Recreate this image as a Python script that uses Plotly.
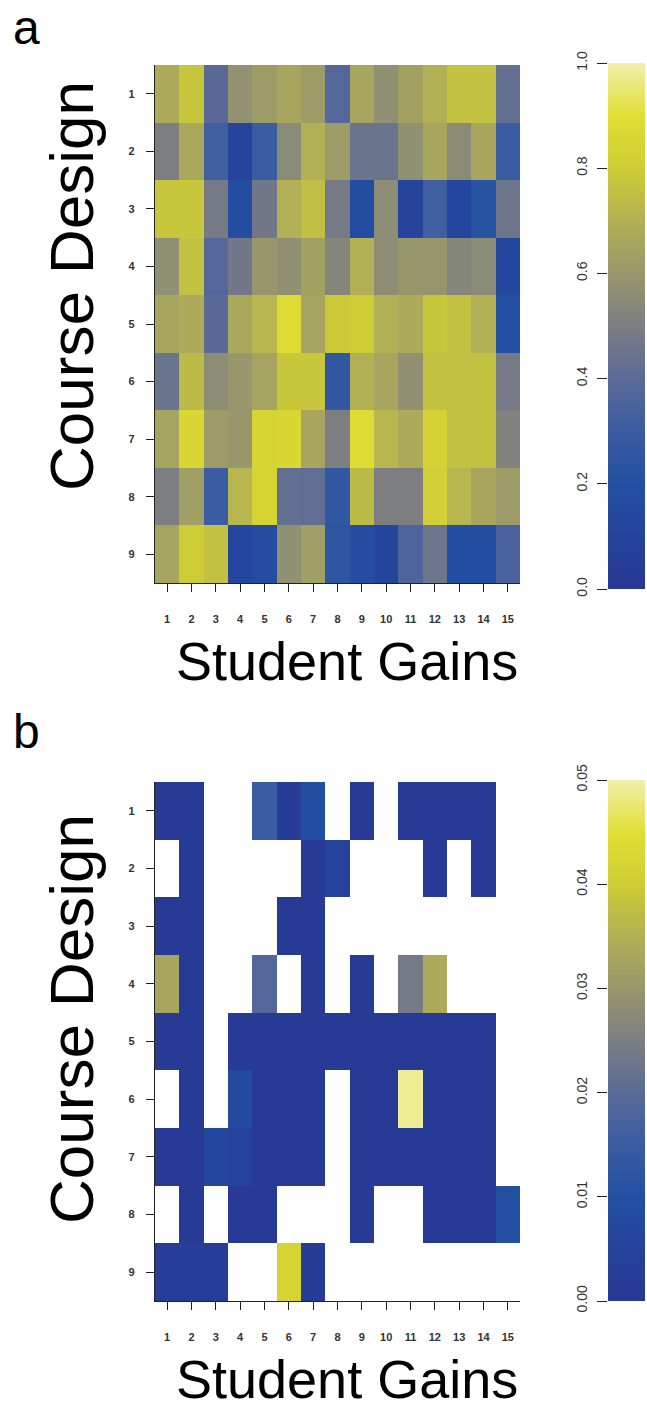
import numpy as np
import plotly.graph_objects as go

# ---------------- data ----------------
student_gains = list(range(1, 16))
course_design = list(range(1, 10))

# Panel a: values (0..1), rows = course design 1..9, cols = student gains 1..15
values_a = [
    [0.68, 0.78, 0.40, 0.58, 0.62, 0.66, 0.62, 0.38, 0.66, 0.57, 0.64, 0.70, 0.76, 0.76, 0.43],
    [0.50, 0.67, 0.32, 0.12, 0.30, 0.55, 0.70, 0.62, 0.45, 0.45, 0.57, 0.66, 0.55, 0.66, 0.30],
    [0.78, 0.78, 0.48, 0.18, 0.47, 0.70, 0.75, 0.48, 0.18, 0.56, 0.12, 0.32, 0.13, 0.22, 0.46],
    [0.57, 0.76, 0.38, 0.47, 0.60, 0.57, 0.64, 0.53, 0.70, 0.56, 0.60, 0.59, 0.53, 0.55, 0.14],
    [0.66, 0.68, 0.40, 0.67, 0.72, 0.88, 0.65, 0.79, 0.80, 0.70, 0.68, 0.78, 0.76, 0.70, 0.20],
    [0.45, 0.74, 0.56, 0.60, 0.65, 0.78, 0.78, 0.27, 0.70, 0.66, 0.57, 0.76, 0.76, 0.76, 0.48],
    [0.65, 0.86, 0.62, 0.60, 0.84, 0.86, 0.66, 0.50, 0.88, 0.72, 0.68, 0.83, 0.76, 0.76, 0.52],
    [0.50, 0.63, 0.30, 0.72, 0.84, 0.43, 0.42, 0.26, 0.74, 0.50, 0.50, 0.82, 0.72, 0.66, 0.62],
    [0.65, 0.80, 0.76, 0.13, 0.17, 0.57, 0.63, 0.24, 0.17, 0.12, 0.36, 0.46, 0.18, 0.18, 0.35],
]

# Panel b: values (0..0.05), None = blank cell
N = None
values_b = [
    [0.001, 0.001, N, N, 0.015, 0.002, 0.009, N, 0.001, N, 0.001, 0.001, 0.001, 0.001, N],
    [N, 0.001, N, N, N, N, 0.001, 0.005, N, N, N, 0.001, N, 0.001, N],
    [0.001, 0.001, N, N, N, 0.001, 0.001, N, N, N, N, N, N, N, N],
    [0.033, 0.001, N, N, 0.019, N, 0.001, N, 0.001, N, 0.024, 0.034, N, N, N],
    [0.001, 0.001, N, 0.001, 0.001, 0.001, 0.001, 0.001, 0.001, 0.001, 0.001, 0.001, 0.001, 0.001, N],
    [N, 0.001, N, 0.008, 0.001, 0.001, 0.001, N, 0.001, 0.001, 0.049, 0.001, 0.001, 0.001, N],
    [0.001, 0.001, 0.007, 0.005, 0.001, 0.001, 0.001, N, 0.001, 0.001, 0.001, 0.001, 0.001, 0.001, N],
    [N, 0.001, N, 0.001, 0.001, N, N, N, 0.001, N, N, 0.001, 0.001, 0.001, 0.010],
    [0.003, 0.003, 0.003, N, N, 0.042, 0.002, N, N, N, N, N, N, N, N],
]

cb_a_ticks = [0.0, 0.2, 0.4, 0.6, 0.8, 1.0]
cb_a_text = ["0.0", "0.2", "0.4", "0.6", "0.8", "1.0"]
cb_b_ticks = [0.0, 0.01, 0.02, 0.03, 0.04, 0.05]
cb_b_text = ["0.00", "0.01", "0.02", "0.03", "0.04", "0.05"]

# ---------------- style ----------------
W, H = 647, 1417
colorscale = [
    [0.00, "rgb(40,56,148)"],
    [0.10, "rgb(37,66,156)"],
    [0.20, "rgb(35,80,162)"],
    [0.30, "rgb(58,92,162)"],
    [0.40, "rgb(90,106,152)"],
    [0.50, "rgb(124,126,130)"],
    [0.60, "rgb(152,151,108)"],
    [0.70, "rgb(178,176,84)"],
    [0.80, "rgb(206,204,52)"],
    [0.90, "rgb(225,223,52)"],
    [1.00, "rgb(240,240,172)"],
]
DARK = "#222222"
FONT = "Liberation Sans, Arial, sans-serif"


def px(x):
    return x / W


def py(y):
    return 1 - y / H


fig = go.Figure()

fig.add_trace(go.Heatmap(z=values_a, x=student_gains, y=course_design, colorscale=colorscale,
                         zmin=0, zmax=1, showscale=False, xaxis="x", yaxis="y"))
fig.add_trace(go.Heatmap(z=values_b, x=student_gains, y=course_design, colorscale=colorscale,
                         zmin=0, zmax=0.05, showscale=False, xaxis="x3", yaxis="y3"))

# colour keys (gradient strips drawn with the same colour scale)
levels_a = np.linspace(0, 1, 201)
levels_b = np.linspace(0, 0.05, 201)
fig.add_trace(go.Heatmap(z=[[v] for v in levels_a], x=[0], y=levels_a, colorscale=colorscale,
                         zmin=0, zmax=1, showscale=False, xaxis="x2", yaxis="y2", hoverinfo="skip"))
fig.add_trace(go.Heatmap(z=[[v] for v in levels_b], x=[0], y=levels_b, colorscale=colorscale,
                         zmin=0, zmax=0.05, showscale=False, xaxis="x4", yaxis="y4", hoverinfo="skip"))

tickfont = dict(family=FONT, size=11, color="#333333", weight="bold")
cbfont = dict(family=FONT, size=14, color="#333333")

common_x = dict(range=[0.5, 15.5], tickvals=student_gains, ticktext=[str(v) for v in student_gains],
                ticks="outside", ticklen=8, tickwidth=1.3, tickcolor=DARK, showline=True,
                linecolor=DARK, linewidth=1.3, showgrid=False, zeroline=False, tickfont=tickfont,
                ticklabelstandoff=18, fixedrange=True, automargin=False)
common_y = dict(range=[9.5, 0.5], tickvals=course_design, ticktext=[str(v) for v in course_design],
                ticks="outside", ticklen=8, tickwidth=1.3, tickcolor=DARK, showline=True,
                linecolor=DARK, linewidth=1.3, showgrid=False, zeroline=False, tickfont=tickfont,
                ticklabelstandoff=9, fixedrange=True, automargin=False)
hidden_x = dict(range=[-0.5, 0.5], visible=False, fixedrange=True, automargin=False)
cb_common = dict(ticks="outside", ticklen=10, tickwidth=1.3, tickcolor=DARK, tickangle=-90,
                 tickfont=cbfont, showgrid=False, zeroline=False, showline=False,
                 ticklabelstandoff=4, fixedrange=True, automargin=False)

fig.update_layout(
    width=W, height=H,
    margin=dict(l=0, r=0, t=0, b=0, pad=0),
    paper_bgcolor="white", plot_bgcolor="white",
    showlegend=False,
    xaxis=dict(domain=[px(155), px(520)], anchor="y", **common_x),
    yaxis=dict(domain=[py(583), py(65)], anchor="x", **common_y),
    xaxis3=dict(domain=[px(155), px(520)], anchor="y3", **common_x),
    yaxis3=dict(domain=[py(1301), py(782)], anchor="x3", **common_y),
    xaxis2=dict(domain=[px(608), px(645)], anchor="y2", **hidden_x),
    yaxis2=dict(domain=[py(589), py(63)], anchor="x2", range=[0, 1], tickvals=cb_a_ticks,
                ticktext=cb_a_text, **cb_common),
    xaxis4=dict(domain=[px(608), px(645)], anchor="y4", **hidden_x),
    yaxis4=dict(domain=[py(1301), py(780)], anchor="x4", range=[0, 0.05], tickvals=cb_b_ticks,
                ticktext=cb_b_text, **cb_common),
)

ann = [
    dict(text="a", x=px(11), y=py(27), xanchor="left", yanchor="middle",
         font=dict(family=FONT, size=48, color="black")),
    dict(text="b", x=px(11), y=py(731), xanchor="left", yanchor="middle",
         font=dict(family=FONT, size=48, color="black")),
    dict(text="Course Design", x=px(71), y=py(286), textangle=-90, xanchor="center", yanchor="middle",
         font=dict(family=FONT, size=62, color="black")),
    dict(text="Course Design", x=px(71), y=py(1019), textangle=-90, xanchor="center", yanchor="middle",
         font=dict(family=FONT, size=62, color="black")),
    dict(text="Student Gains", x=px(347), y=py(661), xanchor="center", yanchor="middle",
         font=dict(family=FONT, size=54, color="black")),
    dict(text="Student Gains", x=px(347), y=py(1379), xanchor="center", yanchor="middle",
         font=dict(family=FONT, size=54, color="black")),
]
for a in ann:
    a.update(xref="paper", yref="paper", showarrow=False)
fig.update_layout(annotations=ann)

fig.write_html("out.html", config={"displayModeBar": False},
               post_script="document.body.style.margin='0px';")
